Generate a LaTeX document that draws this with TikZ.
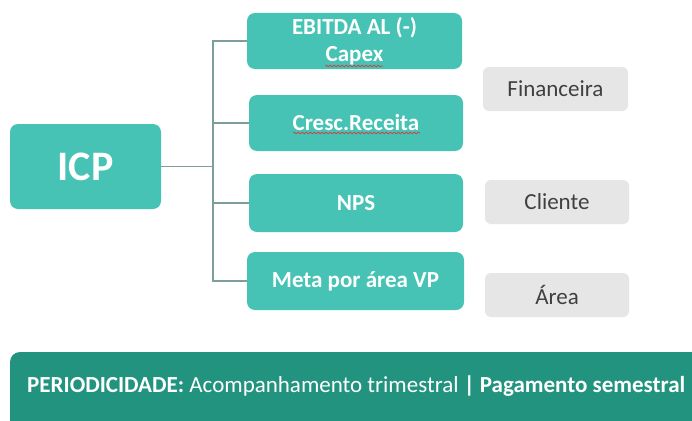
\documentclass[tikz,border=0pt]{standalone}
\usepackage{fontspec}
\setmainfont{Carlito}
\usetikzlibrary{decorations.pathmorphing}
\definecolor{tealbox}{HTML}{46C3B4}
\definecolor{tealbar}{HTML}{22937F}
\definecolor{graybox}{HTML}{E6E6E6}
\definecolor{graytext}{HTML}{404040}
\definecolor{linkcol}{HTML}{7C9E9C}
\definecolor{squig}{HTML}{C0504D}

\begin{document}
\begin{tikzpicture}[x=1pt,y=-1pt,
  kpi/.style={fill=tealbox,rounded corners=8pt,text=white,font=\fontsize{23}{27}\selectfont\bfseries,align=center,inner sep=0pt},
  tag/.style={fill=graybox,rounded corners=6pt,text=graytext,font=\fontsize{23}{27}\selectfont,inner sep=0pt,minimum width=144pt,minimum height=44pt},
  link/.style={linkcol,line width=1.4pt},
  wavy/.style={squig,line width=.8pt,decorate,decoration={snake,segment length=4pt,amplitude=.9pt}}]
\clip (0,0) rectangle (692,420);
\fill[white] (0,0) rectangle (692,420);
\node[kpi,minimum width=151pt,minimum height=85pt,font=\fontsize{42}{48}\selectfont\bfseries] (icp) at (85.5,166.5) {ICP};
\node[kpi,minimum width=215pt,minimum height=56pt] (ebitda) at (354.5,41) {EBITDA AL (-)\\Capex};
\node[kpi,minimum width=214pt,minimum height=56pt] (cresc) at (356,123) {Cresc.Receita};
\node[kpi,minimum width=214pt,minimum height=58pt] (nps) at (356,203) {NPS};
\node[kpi,minimum width=217pt,minimum height=58pt] (meta) at (355.5,281) {Meta por área VP};
\node[tag,minimum width=145pt] (fin) at (555.5,89) {Financeira};
\node[tag] (cli) at (557,202) {Cliente};
\node[tag] (area) at (557,295) {Área};
\draw[link] (icp.east) -- (213,166.5) coordinate (hub);
\foreach \n in {ebitda,cresc,nps,meta} \draw[link] (hub) |- (\n.west);
\draw[wavy] (325,66) -- (383,66);
\draw[wavy] (293,133) -- (420,133);
\fill[tealbar,rounded corners=10pt] (10,352) rectangle (720,450);
\node[anchor=west,text=white,font=\fontsize{23}{27}\selectfont,inner sep=0pt] (period) at (27,386)
  {\textbf{PERIODICIDADE:} Acompanhamento trimestral \textbf{| Pagamento semestral}};
\end{tikzpicture}
\end{document}
